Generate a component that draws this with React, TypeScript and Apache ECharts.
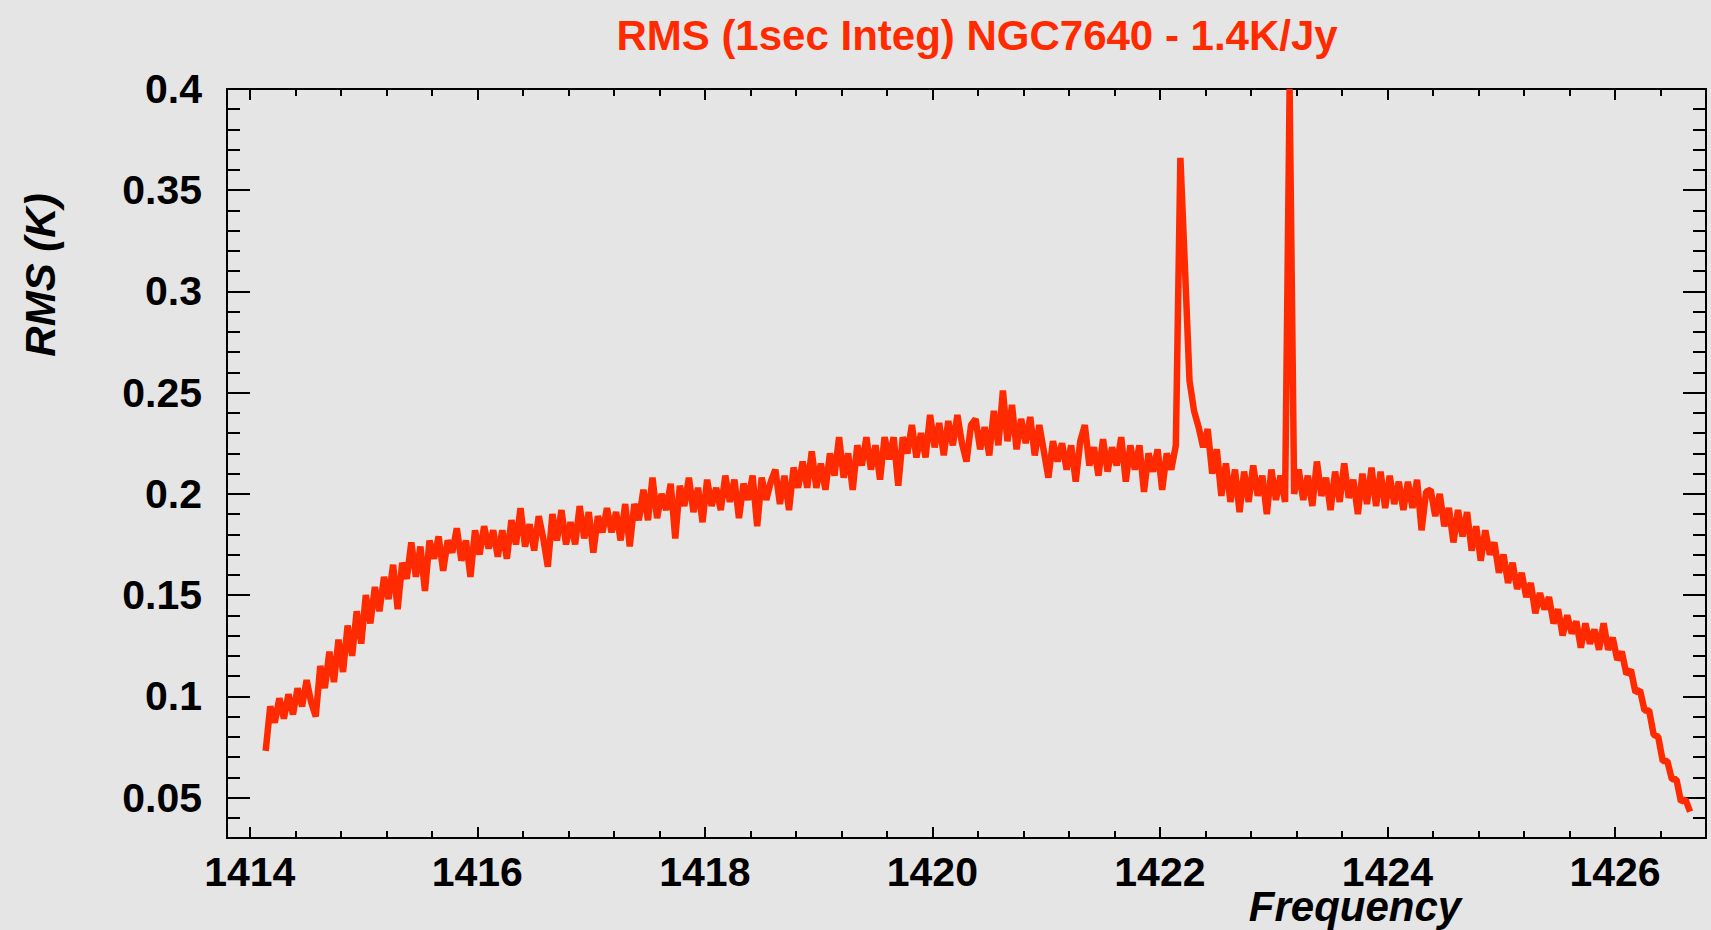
import React, { useEffect, useRef } from "react";
import * as echarts from "echarts";

const TITLE = "RMS (1sec Integ) NGC7640 - 1.4K/Jy";
const X_NAME = "Frequency";
const Y_NAME = "RMS (K)";

const START_FREQ = 1414.14;
const CHANNEL_WIDTH = 0.04;

const X_MIN = 1413.8;
const X_MAX = 1426.8;
const Y_MIN = 0.03;
const Y_MAX = 0.4;

const X_MAJOR = [1414, 1416, 1418, 1420, 1422, 1424, 1426];
const X_MINOR = [
  1414.4, 1414.8, 1415.2, 1415.6, 1416.4, 1416.8, 1417.2, 1417.6, 1418.4, 1418.8,
  1419.2, 1419.6, 1420.4, 1420.8, 1421.2, 1421.6, 1422.4, 1422.8, 1423.2, 1423.6,
  1424.4, 1424.8, 1425.2, 1425.6, 1426.4,
];
const Y_MAJOR = [0.05, 0.1, 0.15, 0.2, 0.25, 0.3, 0.35, 0.4];
const Y_MINOR = [
  0.04, 0.06, 0.07, 0.08, 0.09, 0.11, 0.12, 0.13, 0.14, 0.16, 0.17, 0.18, 0.19,
  0.21, 0.22, 0.23, 0.24, 0.26, 0.27, 0.28, 0.29, 0.31, 0.32, 0.33, 0.34, 0.36,
  0.37, 0.38, 0.39,
];

// RMS per channel (0.04 MHz channels), one array per MHz starting at 1414.14
const rms1414 = [0.073, 0.095, 0.087, 0.099, 0.089, 0.101, 0.091, 0.104, 0.095, 0.108, 0.097, 0.090, 0.115, 0.104, 0.122, 0.107, 0.128, 0.112, 0.135, 0.120, 0.142, 0.126, 0.150, 0.136, 0.154];
const rms1415 = [0.142, 0.159, 0.148, 0.165, 0.143, 0.166, 0.158, 0.176, 0.159, 0.174, 0.152, 0.177, 0.168, 0.179, 0.162, 0.177, 0.171, 0.183, 0.167, 0.177, 0.159, 0.182, 0.170, 0.184, 0.173];
const rms1416 = [0.182, 0.169, 0.182, 0.168, 0.187, 0.175, 0.193, 0.174, 0.185, 0.172, 0.189, 0.178, 0.164, 0.190, 0.177, 0.192, 0.175, 0.186, 0.175, 0.194, 0.178, 0.191, 0.171, 0.189, 0.181];
const rms1417 = [0.193, 0.181, 0.191, 0.177, 0.195, 0.174, 0.195, 0.187, 0.202, 0.187, 0.208, 0.188, 0.200, 0.192, 0.205, 0.178, 0.204, 0.194, 0.208, 0.191, 0.203, 0.186, 0.207, 0.194, 0.203];
const rms1418 = [0.192, 0.209, 0.196, 0.207, 0.188, 0.205, 0.197, 0.209, 0.184, 0.208, 0.197, 0.206, 0.212, 0.195, 0.209, 0.192, 0.213, 0.203, 0.216, 0.203, 0.221, 0.203, 0.215, 0.202, 0.220];
const rms1419 = [0.209, 0.228, 0.208, 0.220, 0.202, 0.224, 0.214, 0.228, 0.212, 0.224, 0.207, 0.228, 0.217, 0.228, 0.204, 0.228, 0.220, 0.234, 0.218, 0.230, 0.218, 0.239, 0.223, 0.235, 0.219];
const rms1420 = [0.236, 0.224, 0.239, 0.225, 0.216, 0.234, 0.237, 0.222, 0.233, 0.219, 0.241, 0.224, 0.251, 0.226, 0.244, 0.222, 0.237, 0.225, 0.238, 0.219, 0.234, 0.221, 0.208, 0.226, 0.216];
const rms1421 = [0.225, 0.212, 0.224, 0.206, 0.226, 0.234, 0.214, 0.223, 0.209, 0.227, 0.211, 0.223, 0.214, 0.228, 0.206, 0.224, 0.212, 0.224, 0.201, 0.220, 0.211, 0.222, 0.202, 0.220, 0.212];
const rms1422 = [0.224, 0.366, 0.312, 0.256, 0.241, 0.233, 0.223, 0.232, 0.210, 0.222, 0.199, 0.215, 0.196, 0.212, 0.191, 0.211, 0.196, 0.214, 0.199, 0.209, 0.190, 0.212, 0.197, 0.209, 0.196];
const rms1423 = [0.400, 0.200, 0.212, 0.197, 0.209, 0.194, 0.216, 0.199, 0.208, 0.192, 0.211, 0.196, 0.215, 0.198, 0.207, 0.190, 0.210, 0.195, 0.213, 0.194, 0.211, 0.193, 0.209, 0.195, 0.206];
const rms1424 = [0.192, 0.206, 0.193, 0.207, 0.182, 0.201, 0.202, 0.189, 0.200, 0.184, 0.193, 0.176, 0.192, 0.179, 0.191, 0.172, 0.184, 0.167, 0.182, 0.170, 0.176, 0.161, 0.170, 0.156, 0.166];
const rms1425 = [0.153, 0.161, 0.149, 0.156, 0.141, 0.151, 0.143, 0.149, 0.136, 0.143, 0.130, 0.140, 0.131, 0.137, 0.124, 0.136, 0.126, 0.133, 0.123, 0.136, 0.123, 0.129, 0.118, 0.122, 0.111];
const rms1426 = [0.113, 0.102, 0.103, 0.093, 0.093, 0.081, 0.080, 0.068, 0.068, 0.059, 0.059, 0.048, 0.049, 0.043];

const RMS = [
  ...rms1414, ...rms1415, ...rms1416, ...rms1417, ...rms1418, ...rms1419, ...rms1420,
  ...rms1421, ...rms1422, ...rms1423, ...rms1424, ...rms1425, ...rms1426,
];

const RED = "#ff2a00";
const FONT = '"Liberation Sans", Arial, Helvetica, sans-serif';

export default function App() {
  const ref = useRef<HTMLDivElement>(null);

  useEffect(() => {
    document.body.style.margin = "0";
    document.body.style.background = "#e5e5e5";
    if (!ref.current) return;
    const chart = echarts.init(ref.current, null, { renderer: "svg" });

    const data = RMS.map((v, i) => [
      Number((START_FREQ + i * CHANNEL_WIDTH).toFixed(2)),
      v,
    ]);

    const axisLineStyle = { color: "#000", width: 2 };
    const labelStyle = {
      color: "#000",
      fontFamily: FONT,
      fontWeight: "bold" as const,
      fontSize: 41,
      lineHeight: 32,
    };

    const xAxisBase = {
      type: "value" as const,
      min: X_MIN,
      max: X_MAX,
      splitLine: { show: false },
      gridIndex: 0,
    };
    const yAxisBase = {
      type: "value" as const,
      min: Y_MIN,
      max: Y_MAX,
      splitLine: { show: false },
      gridIndex: 0,
    };

    chart.setOption({
      animation: false,
      backgroundColor: "#e5e5e5",
      grid: {
        left: 227,
        right: 5,
        top: 89,
        bottom: 92,
        outerBoundsMode: "none",
        containLabel: false,
      },
      xAxis: [
        {
          ...xAxisBase,
          position: "bottom",
          axisLine: { show: true, lineStyle: axisLineStyle },
          axisTick: {
            show: true,
            inside: true,
            length: 11,
            lineStyle: axisLineStyle,
            customValues: X_MAJOR,
          },
          axisLabel: {
            show: true,
            ...labelStyle,
            margin: 18,
            customValues: X_MAJOR,
            formatter: (v: number) => String(Math.round(v)),
          },
        },
        {
          ...xAxisBase,
          position: "bottom",
          axisLine: { show: false },
          axisTick: {
            show: true,
            inside: true,
            length: 7,
            lineStyle: axisLineStyle,
            customValues: X_MINOR,
          },
          axisLabel: { show: false },
        },
        {
          ...xAxisBase,
          position: "top",
          axisLine: { show: true, lineStyle: axisLineStyle },
          axisTick: {
            show: true,
            inside: true,
            length: 11,
            lineStyle: axisLineStyle,
            customValues: X_MAJOR,
          },
          axisLabel: { show: false },
        },
        {
          ...xAxisBase,
          position: "top",
          axisLine: { show: false },
          axisTick: {
            show: true,
            inside: true,
            length: 7,
            lineStyle: axisLineStyle,
            customValues: X_MINOR,
          },
          axisLabel: { show: false },
        },
      ],
      yAxis: [
        {
          ...yAxisBase,
          position: "left",
          axisLine: { show: true, lineStyle: axisLineStyle },
          axisTick: {
            show: true,
            inside: true,
            length: 23,
            lineStyle: axisLineStyle,
            customValues: Y_MAJOR,
          },
          axisLabel: {
            show: true,
            ...labelStyle,
            margin: 25,
            customValues: Y_MAJOR,
          },
        },
        {
          ...yAxisBase,
          position: "left",
          axisLine: { show: false },
          axisTick: {
            show: true,
            inside: true,
            length: 13,
            lineStyle: axisLineStyle,
            customValues: Y_MINOR,
          },
          axisLabel: { show: false },
        },
        {
          ...yAxisBase,
          position: "right",
          axisLine: { show: true, lineStyle: axisLineStyle },
          axisTick: {
            show: true,
            inside: true,
            length: 23,
            lineStyle: axisLineStyle,
            customValues: Y_MAJOR,
          },
          axisLabel: { show: false },
        },
        {
          ...yAxisBase,
          position: "right",
          axisLine: { show: false },
          axisTick: {
            show: true,
            inside: true,
            length: 13,
            lineStyle: axisLineStyle,
            customValues: Y_MINOR,
          },
          axisLabel: { show: false },
        },
      ],
      series: [
        {
          type: "line",
          xAxisIndex: 0,
          yAxisIndex: 0,
          data,
          showSymbol: false,
          symbol: "none",
          silent: true,
          clip: true,
          lineStyle: { color: RED, width: 6.5, join: "bevel" },
        },
      ],
      graphic: [
        {
          type: "text",
          x: 977,
          y: 35,
          silent: true,
          style: {
            text: TITLE,
            fill: RED,
            font: `bold 42px ${FONT}`,
            lineHeight: 34,
            align: "center",
            verticalAlign: "middle",
            textAlign: "center",
            textVerticalAlign: "middle",
          },
        },
        {
          type: "text",
          x: 40,
          y: 275,
          rotation: Math.PI / 2,
          silent: true,
          style: {
            text: Y_NAME,
            fill: "#000",
            font: `italic bold 42px ${FONT}`,
            lineHeight: 34,
            align: "center",
            verticalAlign: "middle",
            textAlign: "center",
            textVerticalAlign: "middle",
          },
        },
        {
          type: "text",
          x: 1355,
          y: 906,
          silent: true,
          style: {
            text: X_NAME,
            fill: "#000",
            font: `italic bold 42px ${FONT}`,
            lineHeight: 28,
            align: "center",
            verticalAlign: "middle",
            textAlign: "center",
            textVerticalAlign: "middle",
          },
        },
      ],
    });

    return () => {
      chart.dispose();
    };
  }, []);

  return (
    <div
      ref={ref}
      style={{
        position: "fixed",
        left: 0,
        top: 0,
        width: 1711,
        height: 930,
        background: "#e5e5e5",
      }}
    />
  );
}
